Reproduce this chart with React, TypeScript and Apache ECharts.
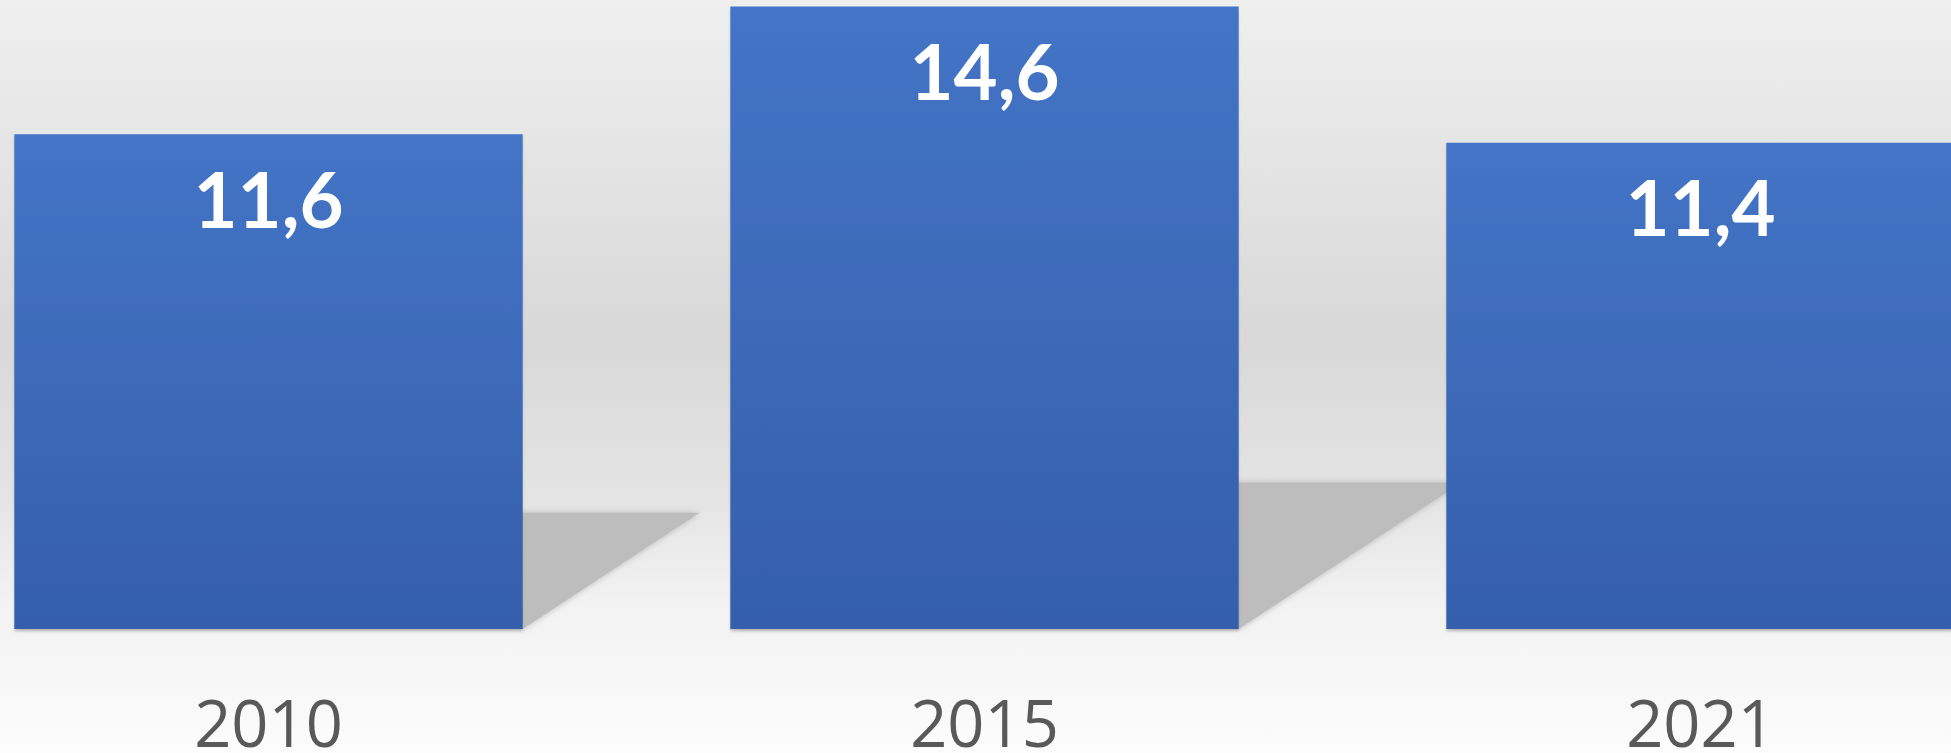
import React, { useEffect, useRef } from "react";
import * as echarts from "echarts";

const categories = ["2010", "2015", "2021"];
const values = [11.6, 14.6, 11.4];

export default function App() {
  const ref = useRef<HTMLDivElement>(null);
  useEffect(() => {
    if (!ref.current) return;
    const chart = echarts.init(ref.current, null, { renderer: "svg" });
    const shadowData = values.map((v, i) => [i, v]);
    chart.setOption({
      animation: false,
      graphic: [
        {
          type: "rect",
          z: -10,
          silent: true,
          shape: { x: 0, y: 0, width: 1951, height: 753 },
          style: {
            fill: {
              type: "linear",
              x: 0,
              y: 0,
              x2: 0,
              y2: 1,
              colorStops: [
                { offset: 0, color: "#efefef" },
                { offset: 0.45, color: "#d8d8d8" },
                { offset: 0.66, color: "#e4e4e4" },
                { offset: 0.8, color: "#f2f2f2" },
                { offset: 1, color: "#fcfcfc" },
              ],
            },
          },
        },
      ],
      grid: {
        left: -89.5,
        width: 2148,
        top: 0,
        bottom: 124,
        containLabel: false,
        outerBoundsMode: "none",
      },
      xAxis: {
        type: "category",
        data: categories,
        axisLine: { show: false },
        axisTick: { show: false },
        splitLine: { show: false },
        axisLabel: {
          color: "#595959",
          fontSize: 65,
          fontFamily: "Open Sans",
          margin: 68,
          lineHeight: 50,
        },
      },
      yAxis: { type: "value", min: 0, max: 14.75, show: false },
      series: [
        {
          type: "custom",
          z: 1,
          silent: true,
          data: shadowData,
          renderItem: (params: any, api: any) => {
            const idx = api.value(0);
            const val = api.value(1);
            const base = api.coord([idx, 0]);
            const top = api.coord([idx, val]);
            const bw = api.size([1, 0])[0] * 0.71;
            const L = base[0] - bw / 2;
            const R = base[0] + bw / 2;
            const h = base[1] - top[1];
            const kh = 0.235 * h;
            const s = 1.52 * kh;
            return {
              type: "polygon",
              shape: {
                points: [
                  [L, base[1]],
                  [R, base[1]],
                  [R + s, base[1] - kh],
                  [L + s, base[1] - kh],
                ],
              },
              style: {
                fill: "#bdbdbd",
                shadowBlur: 6,
                shadowColor: "rgba(150,150,150,0.6)",
              },
            };
          },
        },
        {
          type: "bar",
          z: 2,
          data: values,
          barWidth: "71%",
          itemStyle: {
            color: {
              type: "linear",
              x: 0,
              y: 0,
              x2: 0,
              y2: 1,
              colorStops: [
                { offset: 0, color: "#4474c6" },
                { offset: 1, color: "#355fab" },
              ],
            },
            shadowColor: "rgba(0,0,0,0.18)",
            shadowBlur: 2,
            shadowOffsetY: 2,
          },
          label: {
            show: true,
            position: "insideTop",
            distance: 26,
            color: "#ffffff",
            fontSize: 76,
            fontWeight: "bold",
            fontFamily: "Lato",
            lineHeight: 76,
            formatter: (p: any) => String(p.value).replace(".", ","),
          },
        },
      ],
    });
    return () => chart.dispose();
  }, []);
  return (
    <div
      ref={ref}
      style={{ position: "fixed", left: 0, top: 0, width: 1951, height: 753 }}
    />
  );
}
